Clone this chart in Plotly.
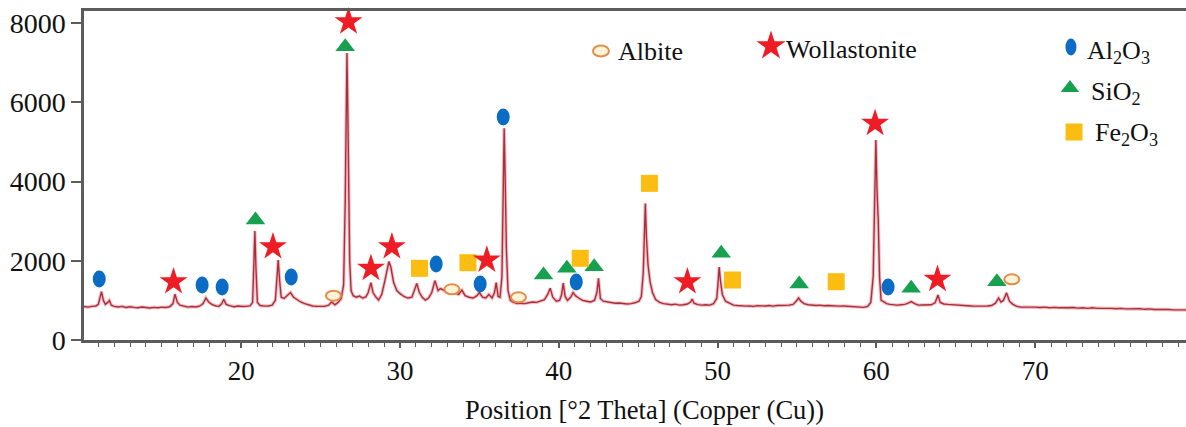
import plotly.graph_objects as go

# ---- XRD pattern (2θ in degrees, intensity in counts) ----
TWO_THETA = [
    10.10, 10.35, 10.60, 10.85, 11.00, 11.10, 11.20, 11.32, 11.45, 11.60, 11.70, 11.82,
    12.00, 12.25, 12.50, 12.75, 13.00, 13.25, 13.50, 13.75, 14.00, 14.25, 14.50, 14.75,
    15.00, 15.25, 15.50, 15.70, 15.83, 15.98, 16.15, 16.40, 16.65, 16.90, 17.15, 17.40,
    17.60, 17.78, 17.95, 18.15, 18.40, 18.60, 18.78, 18.90, 19.05, 19.30, 19.55, 19.80,
    20.05, 20.30, 20.55, 20.72, 20.80, 20.86, 20.93, 21.02, 21.20, 21.45, 21.70, 21.95,
    22.15, 22.25, 22.33, 22.42, 22.52, 22.70, 22.90, 23.10, 23.30, 23.50, 23.75, 24.00,
    24.25, 24.50, 24.75, 25.00, 25.25, 25.50, 25.70, 25.90, 26.10, 26.30, 26.45, 26.55,
    26.62, 26.66, 26.72, 26.77, 26.83, 26.92, 27.05, 27.25, 27.45, 27.65, 27.85, 28.00,
    28.17, 28.30, 28.45, 28.65, 28.85, 29.05, 29.20, 29.30, 29.42, 29.60, 29.80, 30.00,
    30.25, 30.50, 30.75, 30.90, 31.06, 31.22, 31.40, 31.60, 31.80, 32.00, 32.20, 32.40,
    32.55, 32.75, 32.95, 33.15, 33.30, 33.50, 33.70, 33.90, 34.10, 34.35, 34.60, 34.85,
    35.00, 35.20, 35.40, 35.60, 35.80, 35.95, 36.06, 36.18, 36.30, 36.42, 36.52, 36.56,
    36.62, 36.70, 36.80, 36.95, 37.15, 37.40, 37.60, 37.85, 38.10, 38.35, 38.60, 38.85,
    39.10, 39.30, 39.46, 39.62, 39.85, 40.05, 40.18, 40.28, 40.40, 40.55, 40.75, 40.90,
    41.05, 41.25, 41.50, 41.75, 42.00, 42.25, 42.40, 42.50, 42.62, 42.80, 43.05, 43.30,
    43.55, 43.80, 44.05, 44.30, 44.55, 44.80, 45.05, 45.20, 45.32, 45.42, 45.45, 45.52,
    45.62, 45.75, 45.90, 46.10, 46.35, 46.60, 46.85, 47.10, 47.35, 47.60, 47.85, 48.10,
    48.30, 48.40, 48.52, 48.75, 49.00, 49.25, 49.50, 49.75, 49.95, 50.05, 50.10, 50.18,
    50.30, 50.50, 50.75, 51.00, 51.25, 51.50, 51.75, 52.00, 52.25, 52.50, 52.75, 53.00,
    53.25, 53.50, 53.75, 54.00, 54.25, 54.50, 54.75, 54.95, 55.10, 55.25, 55.45, 55.70,
    55.95, 56.20, 56.45, 56.70, 56.95, 57.20, 57.45, 57.70, 57.95, 58.20, 58.45, 58.70,
    58.95, 59.20, 59.45, 59.65, 59.80, 59.90, 59.97, 60.04, 60.12, 60.20, 60.30, 60.45,
    60.65, 60.85, 61.05, 61.30, 61.55, 61.80, 62.00, 62.20, 62.40, 62.65, 62.90, 63.15,
    63.45, 63.70, 63.88, 64.02, 64.25, 64.50, 64.75, 65.00, 65.25, 65.50, 65.75, 66.00,
    66.25, 66.50, 66.75, 67.00, 67.25, 67.50, 67.70, 67.85, 68.00, 68.20, 68.38, 68.60,
    68.85, 69.10, 69.40, 69.70, 70.00, 70.30, 70.60, 70.90, 71.20, 71.50, 71.80, 72.10,
    72.40, 72.70, 73.00, 73.30, 73.60, 73.90, 74.20, 74.50, 74.80, 75.10, 75.40, 75.70,
    76.00, 76.30, 76.60, 76.90, 77.20, 77.50, 77.80, 78.10, 78.40, 78.70, 79.00, 79.30,
    79.50,
]
COUNTS = [
    845, 830, 850, 860, 900, 1050, 1220, 1000, 900, 950, 1000, 880,
    850, 835, 850, 820, 840, 825, 815, 835, 820, 810, 825, 815,
    830, 820, 840, 920, 1160, 950, 880, 850, 830, 845, 835, 860,
    920, 1060, 960, 900, 860, 850, 920, 1030, 900, 860, 840, 860,
    845, 850, 860, 950, 1800, 2750, 1800, 950, 870, 855, 860, 880,
    1000, 1500, 2020, 1500, 1080, 1050, 1130, 1200, 1080, 1020, 960, 920,
    880, 860, 850, 845, 850, 880, 960, 890, 950, 1050, 1400, 3500,
    6500, 7250, 5600, 4400, 2000, 1250, 1120, 1080, 1110, 1060, 1090, 1200,
    1450, 1200, 1100, 1010, 1150, 1500, 1850, 1980, 1850, 1450, 1250, 1170,
    1100, 1060, 1080, 1250, 1430, 1200, 1080, 1010, 1060, 1200, 1500, 1250,
    1300, 1260, 1200, 1250, 1300, 1180, 1150, 1260, 1120, 1080, 1060, 1120,
    1200, 1080, 1060, 1150, 1060, 1200, 1450, 1100, 1080, 1600, 4500, 5350,
    4200, 2300, 1250, 1000, 950, 920, 930, 920, 940, 960, 950, 980,
    1020, 1150, 1310, 1080, 980, 1000, 1150, 1440, 1100, 1000, 1080, 1200,
    1120, 1060, 1000, 980, 960, 1000, 1200, 1560, 1050, 980, 960, 940,
    930, 935, 920, 910, 920, 940, 980, 1100, 1700, 3100, 3450, 2600,
    1900, 1470, 1200, 1020, 950, 920, 900, 890, 905, 880, 890, 910,
    960, 1035, 930, 895, 880, 890, 880, 920, 1050, 1500, 1840, 1500,
    1150, 980, 920, 880, 870, 860, 855, 860, 850, 865, 855, 860,
    870, 855, 870, 865, 875, 880, 900, 980, 1060, 980, 920, 890,
    880, 870, 880, 865, 870, 860, 865, 855, 860, 850, 845, 835,
    830, 825, 850, 950, 1600, 3500, 5050, 3800, 3000, 1600, 1000, 970,
    920, 900, 890, 880, 890, 900, 930, 970, 920, 880, 885, 880,
    890, 940, 1136, 950, 910, 900, 890, 880, 870, 875, 865, 860,
    855, 850, 855, 860, 870, 930, 1060, 960, 1000, 1190, 980, 900,
    850, 830, 835, 825, 830, 820, 830, 815, 825, 815, 820, 810,
    820, 805, 815, 800, 815, 800, 805, 795, 800, 790, 800, 785,
    790, 780, 790, 775, 785, 770, 775, 765, 770, 760, 765, 755,
    760,
]

# ---- phase identification markers ----
AL2O3_X = [11.06, 17.54, 18.80, 23.15, 32.28, 35.05, 36.50, 41.10, 60.74]
AL2O3_Y = [1540, 1389, 1338, 1591, 1919, 1414, 5631, 1465, 1338]
WOLL_X = [15.74, 22.00, 26.76, 28.17, 29.49, 35.47, 48.10, 59.92, 63.85]
WOLL_Y = [1472, 2356, 8037, 1810, 2356, 2020, 1472, 5472, 1533]
SIO2_X = [20.90, 26.55, 39.04, 40.51, 42.23, 50.23, 55.14, 62.19, 67.59]
SIO2_Y = [3030, 7406, 1641, 1810, 1851, 2189, 1414, 1305, 1472]
FE2O3_X = [31.23, 34.28, 41.35, 45.71, 50.94, 57.47]
FE2O3_Y = [1810, 1952, 2063, 3957, 1515, 1472]
ALBITE_X = [25.81, 33.27, 37.46, 68.53]
ALBITE_Y = [1119, 1280, 1078, 1533]

X_TICKS = [20, 30, 40, 50, 60, 70]
Y_TICKS = [0, 2000, 4000, 6000, 8000]

FONT = "Liberation Serif, Times New Roman, serif"
TXT = "#111111"
BLUE = "#0b6cc6"
RED = "#ee1c25"
GREEN = "#17a04f"
YELLOW = "#fbbd12"
ORANGE = "#e48a4c"
ORANGE_FILL = "#fff3d6"
LINE = "#a8303c"
AXIS = "#5c5c5c"

fig = go.Figure()

# soft pinkish under-stroke plus the darker trace on top
fig.add_trace(go.Scatter(x=TWO_THETA, y=COUNTS, mode="lines",
                         line=dict(color="rgba(225,70,85,0.35)", width=3.5),
                         hoverinfo="skip"))
fig.add_trace(go.Scatter(x=TWO_THETA, y=COUNTS, mode="lines",
                         line=dict(color=LINE, width=1.4), hoverinfo="skip"))

fig.add_trace(go.Scatter(x=SIO2_X, y=SIO2_Y, mode="markers", cliponaxis=False,
                         marker=dict(symbol="triangle-up", size=17, color=GREEN,
                                     line=dict(width=0))))
fig.add_trace(go.Scatter(x=FE2O3_X, y=FE2O3_Y, mode="markers", cliponaxis=False,
                         marker=dict(symbol="square", size=17, color=YELLOW,
                                     line=dict(width=0))))
fig.add_trace(go.Scatter(x=WOLL_X, y=WOLL_Y, mode="markers", cliponaxis=False,
                         marker=dict(symbol="star", size=21, color=RED,
                                     line=dict(width=0))))

shapes = []
# Al2O3: filled blue ellipses
for xv, yv in zip(AL2O3_X, AL2O3_Y):
    shapes.append(dict(type="circle", xref="x", yref="y", xsizemode="pixel",
                       ysizemode="pixel", xanchor=xv, yanchor=yv,
                       x0=-6.5, x1=6.5, y0=-8.5, y1=8.5,
                       fillcolor=BLUE, line=dict(width=0), layer="above"))
# Albite: open orange rings
for xv, yv in zip(ALBITE_X, ALBITE_Y):
    shapes.append(dict(type="circle", xref="x", yref="y", xsizemode="pixel",
                       ysizemode="pixel", xanchor=xv, yanchor=yv,
                       x0=-7.5, x1=7.5, y0=-5, y1=5,
                       fillcolor=ORANGE_FILL, line=dict(width=2, color=ORANGE),
                       layer="above"))

# ---- hand-placed key (overlay axes in plot-area fractions) ----
KEY_SYMBOLS = [
    ("star", RED, 22, 0.6234, 0.8936),
    ("triangle-up", GREEN, 16, 0.8947, 0.7660),
    ("square", YELLOW, 17, 0.8984, 0.6322),
]
for sym, col, sz, kx, ky in KEY_SYMBOLS:
    fig.add_trace(go.Scatter(x=[kx], y=[ky], xaxis="x2", yaxis="y2", mode="markers",
                             cliponaxis=False,
                             marker=dict(symbol=sym, size=sz, color=col, line=dict(width=0))))
shapes.append(dict(type="circle", xref="x2", yref="y2", xsizemode="pixel",
                   ysizemode="pixel", xanchor=0.4691, yanchor=0.8784,
                   x0=-8, x1=8, y0=-5.5, y1=5.5,
                   fillcolor=ORANGE_FILL, line=dict(width=2, color=ORANGE), layer="above"))
shapes.append(dict(type="circle", xref="x2", yref="y2", xsizemode="pixel",
                   ysizemode="pixel", xanchor=0.8956, yanchor=0.8906,
                   x0=-5.5, x1=5.5, y0=-8.5, y1=8.5,
                   fillcolor=BLUE, line=dict(width=0), layer="above"))

KEY_TEXT = [
    ("Albite", 0.4828, 0.8784),
    ("Wollastonite", 0.6352, 0.8815),
    ("Al<sub>2</sub>O<sub>3</sub>", 0.9083, 0.8750),
    ("SiO<sub>2</sub>", 0.9120, 0.7500),
    ("Fe<sub>2</sub>O<sub>3</sub>", 0.9156, 0.6250),
]
annotations = [dict(text=t, x=kx, y=ky, xref="paper", yref="paper", xanchor="left",
                    yanchor="middle", showarrow=False,
                    font=dict(family=FONT, size=26, color=TXT))
               for t, kx, ky in KEY_TEXT]
annotations.append(dict(text="Position [°2 Theta] (Copper (Cu))", x=0.509, y=-0.2128,
                        xref="paper", yref="paper", xanchor="center", yanchor="middle",
                        showarrow=False, font=dict(family=FONT, size=26.5, color=TXT)))

fig.update_layout(
    width=1186, height=427,
    margin=dict(l=84, r=0, t=11, b=87),
    paper_bgcolor="white", plot_bgcolor="white",
    showlegend=False,
    shapes=shapes,
    annotations=annotations,
    font=dict(family=FONT, size=26, color=TXT),
    xaxis=dict(range=[10.1, 79.5], tickvals=X_TICKS, ticks="outside", ticklen=5,
               tickwidth=1.5, tickcolor=AXIS, showline=True, linewidth=2.5,
               linecolor=AXIS, mirror=True, showgrid=False, zeroline=False,
               tickfont=dict(family=FONT, size=27, color=TXT),
               minor=dict(dtick=1, ticks="outside", ticklen=4, tickwidth=1,
                          tickcolor=AXIS, showgrid=False)),
    yaxis=dict(range=[0, 8310], tickvals=Y_TICKS, ticks="outside", ticklen=10,
               tickwidth=1.5, tickcolor=AXIS, showline=True, linewidth=2.5,
               linecolor=AXIS, showgrid=False, zeroline=False,
               tickfont=dict(family=FONT, size=28, color=TXT)),
    xaxis2=dict(overlaying="x", range=[0, 1], visible=False, anchor="y2"),
    yaxis2=dict(overlaying="y", range=[0, 1], visible=False, anchor="x2"),
)

fig.write_html("out.html")
